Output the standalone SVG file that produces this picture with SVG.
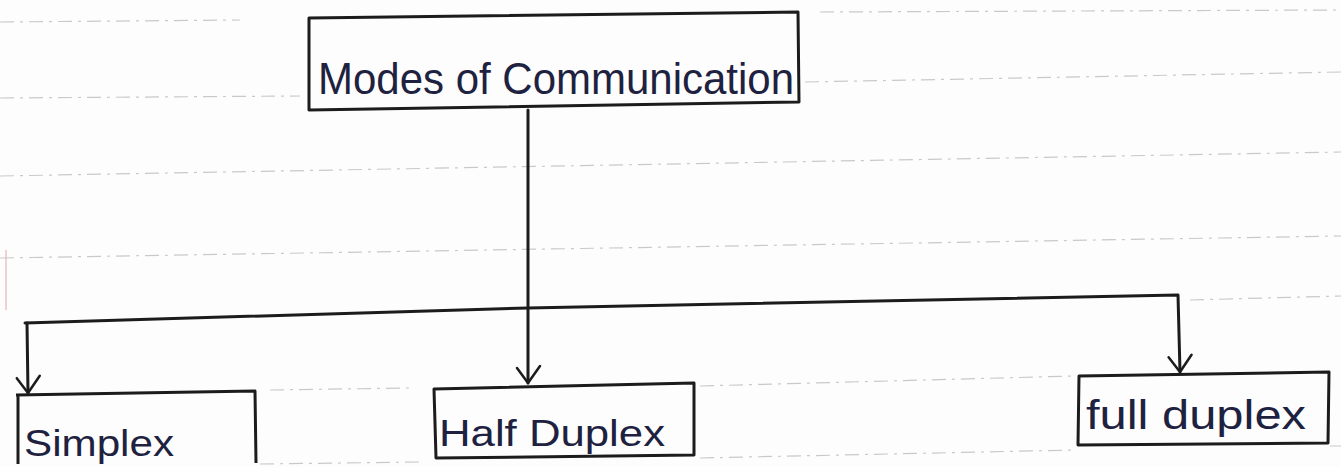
<svg xmlns="http://www.w3.org/2000/svg" width="1341" height="467" viewBox="0 0 1341 467">
<style>
.paper{fill:#fdfdfd}
.rule{stroke:#c9c9c9;stroke-width:1.2;stroke-dasharray:14 6 3 6;fill:none}
.box{fill:none;stroke:#1c1c1c;stroke-width:3;stroke-linejoin:round}
.wire{fill:none;stroke:#1c1c1c;stroke-width:3;stroke-linecap:round;stroke-linejoin:round}
.lbl{font-family:"Liberation Sans","DejaVu Sans",sans-serif;fill:#1e2240;font-weight:normal}
</style>
<defs>
<marker id="v" viewBox="-20 -15 22 30" markerWidth="22" markerHeight="30" refX="0" refY="0" orient="auto" markerUnits="userSpaceOnUse">
<path d="M-17,-12 L0,0 L-15,11" fill="none" stroke="#1c1c1c" stroke-width="2.5" stroke-linecap="round" stroke-linejoin="round"/>
</marker>
</defs>
<rect class="paper" x="0" y="0" width="1341" height="467"/>
<g id="ruling">
<path class="rule" d="M0,22 L240,20 M820,12 L1341,10"/>
<path class="rule" d="M0,98 L300,96 M805,82 L1341,72"/>
<path class="rule" d="M0,176 L1341,152"/>
<path class="rule" d="M0,258 L1341,236"/>
<path class="rule" d="M1190,300 L1341,296"/>
<path class="rule" d="M270,390 L410,388 M700,386 L1075,376"/>
<path class="rule" d="M260,464 L420,462 M700,458 L1075,450 M1330,446 L1341,446"/>
<path d="M6,250 L6,310" stroke="#e6b8b8" stroke-width="1.2" fill="none"/>
</g>
<g id="connectors">
<path class="wire" d="M528,110 L528,383" marker-end="url(#v)"/>
<path class="wire" d="M25,323 L528,308 L1178,295 L1180,372" marker-end="url(#v)"/>
<path class="wire" d="M27,323 L28,393" marker-end="url(#v)"/>
</g>
<g id="modes">
<path class="box" d="M309,18 L798,12 L799,102 L309,110 Z"/>
<text class="lbl" x="318" y="94" font-size="44" textLength="476" lengthAdjust="spacingAndGlyphs">Modes of Communication</text>
</g>
<g id="simplex">
<path class="box" d="M16,395 L255,391 L256,463 M18,464 L18,395"/>
<text class="lbl" x="24" y="456" font-size="36" textLength="150" lengthAdjust="spacingAndGlyphs">Simplex</text>
</g>
<g id="half-duplex">
<path class="box" d="M434,389 L694,383 L694,455 L436,458 Z"/>
<text class="lbl" x="439" y="446" font-size="36" textLength="226" lengthAdjust="spacingAndGlyphs">Half Duplex</text>
</g>
<g id="full-duplex">
<path class="box" d="M1079,376 L1329,372 L1328,443 L1078,445 Z"/>
<text class="lbl" x="1086" y="429" font-size="40" textLength="220" lengthAdjust="spacingAndGlyphs">full duplex</text>
</g>
</svg>
